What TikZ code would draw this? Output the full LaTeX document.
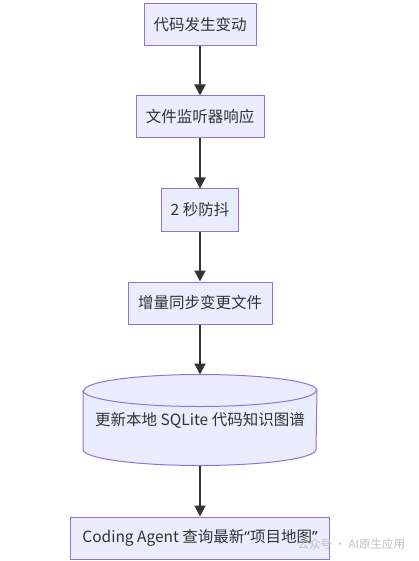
\documentclass[tikz,border=0pt]{standalone}
\usepackage{fontspec}
\setmainfont{Noto Sans CJK SC}
\newfontfamily\quotefont{Noto Sans}
\usetikzlibrary{%
    arrows.meta,
    backgrounds,
    positioning
}
\definecolor{boxfill}{HTML}{ECECFF}
\definecolor{boxline}{HTML}{9370DB}
\definecolor{inkgray}{HTML}{333333}
\tikzset{headarrow/.style = {-{Triangle[length=11pt,width=11pt]}, line width=2pt, draw=inkgray}}
\tikzset{flowbox/.style = {draw=boxline, fill=boxfill, line width=1pt, text=inkgray,
    minimum height=42pt, inner sep=0pt, font=\fontsize{15.5pt}{18pt}\selectfont}}
\tikzset{dbline/.style = {draw=boxline, fill=boxfill, line width=1pt}}

\begin{document}
\begin{tikzpicture}[x=1pt,y=1pt]
    \useasboundingbox (0,0) rectangle (418,-561);
    \node (change) [flowbox,minimum width=112pt] at (200,-25) {代码发生变动};
    \node (watch) [flowbox,minimum width=128pt,below=49pt of change] {文件监听器响应};
    \node (debounce) [flowbox,minimum width=77pt,below=50pt of watch] {2 秒防抖};
    \node (sync) [flowbox,minimum width=144pt,below=50pt of debounce] {增量同步变更文件};
    \node (db) [flowbox,draw=none,fill=none,minimum width=233pt,minimum height=90pt,
        below=50pt of sync] {更新本地 SQLite 代码知识图谱};
    \node (agent) [flowbox,minimum width=259pt,below=51pt of db]
        {Coding Agent 查询最新{\quotefont “}项目地图{\quotefont ”}};
    \node (mark) [text=gray!50,font=\fontsize{11.5pt}{13pt}\selectfont,anchor=west]
        at (294,-544) {公众号 · AI原生应用};

    % cylinder outline for the database node
    \begin{scope}[on background layer]
        \draw[dbline] ([yshift=-16pt]db.north west) -- ([yshift=16pt]db.south west)
            arc[start angle=180,end angle=360,x radius=116.5pt,y radius=16pt]
            -- ([yshift=-16pt]db.north east)
            arc[start angle=0,end angle=180,x radius=116.5pt,y radius=16pt] -- cycle;
        \draw[dbline,fill=none] ([yshift=-16pt]db.north west)
            arc[start angle=180,end angle=360,x radius=116.5pt,y radius=16pt];
    \end{scope}

    \draw[headarrow] (change) -- (watch);
    \draw[headarrow] (watch) -- (debounce);
    \draw[headarrow] (debounce) -- (sync);
    \draw[headarrow] (sync) -- (db);
    \draw[headarrow] (db) -- (agent);
\end{tikzpicture}
\end{document}
